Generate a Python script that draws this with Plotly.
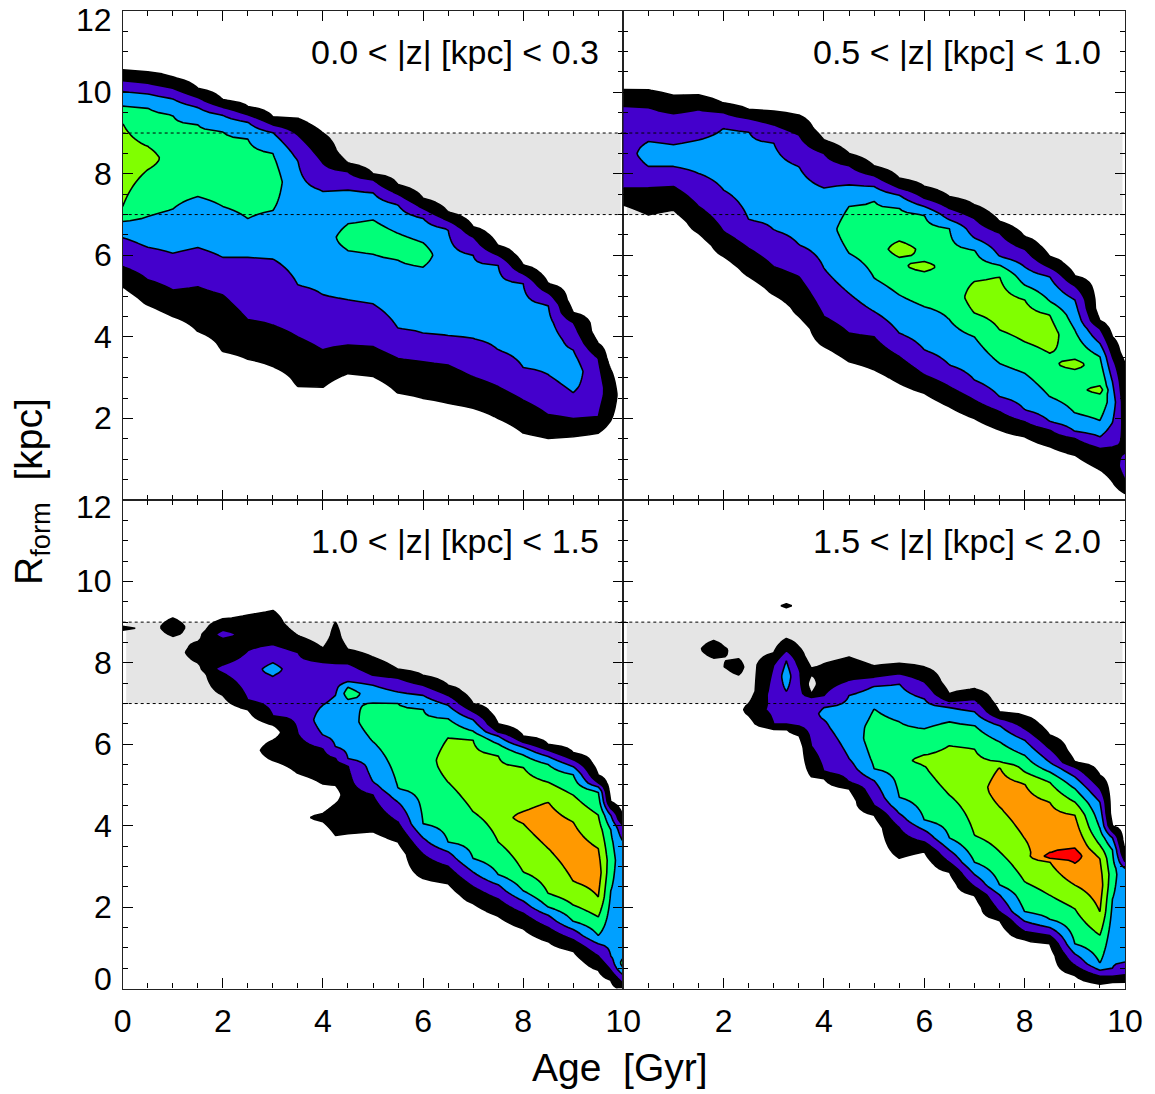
import numpy as np
import plotly.graph_objects as go

# ---------------------------------------------------------------------------
# Axis ticks, panel titles and the solar-radius band
# ---------------------------------------------------------------------------
AGE_TICKS = [0, 2, 4, 6, 8, 10]
R_TICKS = [0, 2, 4, 6, 8, 10, 12]
SOLAR_BAND = (7.0, 9.0)
PANEL_LABELS = [
    "0.0 < |z| [kpc] < 0.3",
    "0.5 < |z| [kpc] < 1.0",
    "1.0 < |z| [kpc] < 1.5",
    "1.5 < |z| [kpc] < 2.0",
]

# fill colour of each density level (level 0 = empty)
LEVEL_COLORS = [
    "rgba(255,255,255,0)",
    "#000000",
    "#4400cc",
    "#00a0ff",
    "#00ff78",
    "#80ff00",
    "#ff9900",
    "#ff0000",
]

# ---------------------------------------------------------------------------
# Density levels per age column.  Each entry lists the R_form values (kpc,
# bottom to top) where the level steps up (+) or down (-) by one.
# ---------------------------------------------------------------------------
AGE_COLS_Z1 = [0, 0.5, 1, 1.5, 2, 2.5, 3, 3.5, 4, 4.5, 5, 5.5, 6, 6.5, 7, 7.5, 8,
               8.5, 9, 9.5, 9.75, 10]
LEVEL_EDGES_Z1 = [
    "5.23+ 5.72+ 6.44+ 6.83+ 7.2+ 9.24- 9.66- 10.02- 10.28- 10.55-",
    "4.78+ 5.4+ 6.2+ 6.95+ 8.1+ 8.67- 9.61- 9.96- 10.22- 10.5-",
    "4.5+ 5.15+ 6.05+ 7.13+ 9.44- 9.84- 10.1- 10.37-",
    "4.13+ 5.23+ 6.19+ 7.44+ 9.2- 9.63- 9.87- 10.1-",
    "3.64+ 5.03+ 5.95+ 7.2+ 9.04- 9.44- 9.63- 9.81-",
    "3.45+ 4.42+ 5.95+ 6.9+ 8.85- 9.27- 9.45- 9.65-",
    "3.27+ 4.29+ 5.91+ 7.1+ 8.5- 9.01- 9.2- 9.4-",
    "2.78+ 4.0+ 5.27+ 8.32- 8.95- 9.36-",
    "2.76+ 3.68+ 5.03+ 7.58- 8.26- 9.0-",
    "3.1+ 3.8+ 4.91+ 6.12+ 6.77- 7.6- 8.05- 8.26-",
    "3.03+ 3.76+ 4.81+ 6.03+ 6.87- 7.54- 7.85- 8.0-",
    "2.62+ 3.47+ 4.21+ 5.89+ 6.54- 7.24- 7.5- 7.73-",
    "2.49+ 3.39+ 4.09+ 5.72+ 6.31- 6.91- 7.15- 7.4-",
    "2.37+ 3.31+ 4.02+ 6.64- 6.85- 7.06-",
    "2.25+ 3.02+ 3.96+ 6.0- 6.45- 6.7-",
    "2.0+ 2.78+ 3.68+ 5.76- 6.0- 6.24-",
    "1.64+ 2.45+ 3.25+ 5.31- 5.55- 5.76-",
    "1.51+ 2.09+ 3.07+ 4.78- 5.08- 5.31-",
    "1.55+ 2.0+ 2.63+ 3.68- 4.35- 4.6-",
    "1.64+ 2.04+ 3.48- 3.84-",
    "1.95+ 3.2-",
    "",
]

AGE_COLS_Z2 = [0, 0.5, 1, 1.5, 2, 2.5, 3, 3.5, 4, 4.5, 5, 5.5, 6, 6.5, 7, 7.5, 8,
               8.5, 9, 9.5, 9.75, 10]
LEVEL_EDGES_Z2 = [
    "7.24+ 7.65+ 9.66- 10.06-",
    "6.99+ 7.66+ 8.18+ 8.79- 9.63- 10.06-",
    "7.11+ 7.69+ 8.18+ 8.71- 9.48- 9.92-",
    "6.54+ 7.2+ 8.01+ 8.83- 9.58- 9.93-",
    "5.97+ 6.58+ 7.6+ 9.12- 9.5- 9.73-",
    "5.48+ 6.17+ 6.87+ 9.04- 9.35- 9.57-",
    "5.03+ 5.72+ 6.62+ 8.75- 9.2- 9.53-",
    "4.5+ 5.48+ 6.26+ 8.18- 8.95- 9.44-",
    "3.76+ 4.5+ 5.68+ 7.65- 8.5- 8.83-",
    "3.39+ 4.09+ 5.07+ 6.05+ 7.2- 7.73- 8.2- 8.5-",
    "3.19+ 4.0+ 4.62+ 5.44+ 7.34- 7.69- 7.95- 8.19-",
    "2.86+ 3.52+ 4.09+ 5.03+ 5.95+ 6.35- 7.15- 7.48- 7.65- 7.89-",
    "2.62+ 3.07+ 3.68+ 4.74+ 5.6+ 5.85- 6.99- 7.2- 7.4- 7.69-",
    "2.29+ 2.78+ 3.31+ 4.42+ 6.66- 6.87- 7.15- 7.44-",
    "2.0+ 2.45+ 2.94+ 4.0+ 4.58+ 5.36- 6.13- 6.42- 6.9- 7.24-",
    "1.72+ 2.17+ 2.53+ 3.35+ 4.17+ 5.48- 5.76- 5.97- 6.55- 6.83-",
    "1.55+ 1.92+ 2.21+ 3.11+ 3.88+ 4.91- 5.27- 5.72- 6.15- 6.46-",
    "1.31+ 1.72+ 1.92+ 2.53+ 3.6+ 4.54- 4.87- 5.48- 5.7- 5.97-",
    "1.1+ 1.51+ 1.68+ 2.13+ 3.2+ 3.45- 4.17- 4.91- 5.25- 5.5-",
    "0.74+ 1.27+ 1.55+ 1.95+ 2.6+ 2.8- 3.52- 3.84- 4.2- 4.4-",
    "0.45+ 1.3+ 1.9+ 2.9- 3.5- 4.0-",
    "0.16+ 0.5+ 1.15- 3.35-",
]

AGE_COLS_Z3 = [0, 0.5, 1, 1.5, 2, 2.5, 3, 3.5, 4, 4.25, 4.5, 5, 5.5, 6, 6.5, 7,
               7.5, 8, 8.5, 9, 9.5, 9.75, 10]
LEVEL_EDGES_Z3 = [
    "8.8+ 8.9-",
    "",
    "8.65+ 9.1-",
    "8.0+ 8.52-",
    "7.2+ 7.75+ 7.95- 8.6+ 8.8- 9.07-",
    "6.85+ 7.08+ 8.3- 9.18-",
    "5.6+ 6.1- 6.48+ 6.7+ 7.68+ 8.0- 8.45- 9.29-",
    "5.28+ 6.26+ 8.26- 8.67-",
    "4.1+ 4.3- 5.02+ 5.89+ 6.22+ 6.96- 8.02- 8.36-",
    "3.76+ 4.54- 4.99+ 5.65+ 5.93+ 7.2- 7.98- 9.0-",
    "3.8+ 5.48+ 5.65+ 7.1+ 7.4- 7.53- 7.98- 8.33-",
    "3.85+ 4.75+ 5.07+ 6.06+ 7.02- 7.45- 7.69- 8.14-",
    "3.6+ 4.09+ 4.58+ 4.91+ 7.0- 7.28- 7.63- 7.84-",
    "2.7+ 3.3+ 3.7+ 4.05+ 6.87- 7.2- 7.45- 7.69-",
    "2.58+ 3.0+ 3.36+ 3.6+ 5.07+ 6.16- 6.63- 6.96- 7.2- 7.45-",
    "2.09+ 2.5+ 2.86+ 3.19+ 4.34+ 6.1- 6.32- 6.6- 6.8- 7.0-",
    "1.78+ 2.2+ 2.55+ 2.8+ 3.6+ 5.73- 6.01- 6.2- 6.3- 6.5-",
    "1.47+ 1.85+ 2.15+ 2.4+ 2.86+ 4.05+ 4.35- 5.44- 5.74- 5.93- 6.05- 6.2-",
    "1.15+ 1.5+ 1.8+ 2.0+ 2.33+ 3.44+ 4.58- 5.07- 5.5- 5.7- 5.85- 5.99-",
    "0.92+ 1.2+ 1.45+ 1.65+ 2.05+ 2.63+ 4.09- 4.75- 5.25- 5.45- 5.62- 5.79-",
    "0.45+ 0.8+ 1.1+ 1.3+ 1.76+ 2.25+ 3.44- 4.26- 4.83- 4.95- 5.05- 5.24-",
    "0.2+ 0.45+ 0.8+ 2.4+ 3.9- 4.26- 4.42- 4.58-",
    "-0.05+ 0.12+ 0.33+ 0.5+ 0.75- 3.6- 4.0- 4.17-",
]

AGE_COLS_Z4 = [0, 1.3, 1.8, 2.3, 2.5, 3, 3.25, 3.5, 3.75, 4, 4.5, 5, 5.5, 6, 6.5,
               7, 7.5, 8, 8.5, 9, 9.5, 9.75, 10]
LEVEL_EDGES_Z4 = [
    "",
    "",
    "8.12+ 8.55-",
    "7.7+ 8.1-",
    "6.7+ 7.0-",
    "6.38+ 6.5+ 7.95- 8.25-",
    "6.38+ 6.48+ 7.3+ 8.05- 8.3- 8.6- 9.37+ 9.45-",
    "6.22+ 6.45+ 7.86- 8.39-",
    "5.2+ 5.95+ 7.15- 7.25- 7.7+ 7.86-",
    "5.16+ 5.32+ 6.6+ 6.9- 7.2- 7.98-",
    "4.91+ 5.07+ 5.65+ 7.2- 7.57- 8.14-",
    "4.26+ 4.5+ 5.11+ 5.4+ 6.87- 7.43- 7.65- 7.92-",
    "3.2+ 3.95+ 4.3+ 4.7+ 6.55- 7.49- 7.73- 7.98-",
    "3.36+ 3.6+ 3.89+ 4.13+ 5.48+ 5.73- 6.38- 7.12- 7.53- 7.9-",
    "2.86+ 3.1+ 3.4+ 3.7+ 4.75+ 5.97- 6.55- 6.9- 7.05- 7.24-",
    "2.29+ 2.5+ 2.8+ 3.1+ 3.76+ 5.89- 6.46- 6.8- 7.1- 7.36-",
    "1.68+ 1.88+ 2.3+ 2.54+ 3.36+ 4.46+ 5.44- 5.56- 6.06- 6.46- 6.63- 6.79-",
    "1.2+ 1.4+ 1.65+ 1.88+ 2.62+ 3.68+ 5.03- 5.32- 5.73- 6.1- 6.38- 6.7-",
    "1.1+ 1.3+ 1.5+ 1.7+ 2.29+ 3.11+ 3.2+ 3.32- 4.58- 5.07- 5.32- 5.56- 5.89- 6.22-",
    "0.33+ 0.57+ 0.85+ 1.1+ 1.96+ 2.54+ 3.08+ 3.45- 4.26- 4.58- 4.91- 5.2- 5.44- 5.56-",
    "0.12+ 0.3+ 0.45+ 0.62+ 1.31+ 1.88+ 3.19- 3.52- 3.93- 4.58- 4.91- 5.24-",
    "0.15+ 0.3+ 0.5+ 2.2+ 3.4- 3.7- 3.85- 4.0-",
    "0.16+ 0.33+ 0.65+ 2.95- 3.11- 3.36-",
]

# ---------------------------------------------------------------------------
# Build the level grid: each column becomes a piecewise-linear profile whose
# level boundaries sit exactly on the half-integer contour values.
# ---------------------------------------------------------------------------
R_GRID = np.round(np.arange(0.0, 12.0001, 0.05), 3)


def level_profile(edges, r):
    toks = edges.split()
    if not toks:
        return np.zeros_like(r)
    ys, zs = [], []
    level, prev = 0, None
    for tok in toks:
        yv = float(tok[:-1])
        step = 1 if tok[-1] == "+" else -1
        if prev is not None:
            ys.append(0.5 * (prev + yv))
            zs.append(level)
        new = level + step
        ys.append(yv)
        zs.append(max(level, new) - 0.5)
        level, prev = new, yv
    ys = [ys[0] - 0.3] + ys + [ys[-1] + 0.3]
    zs = [0.0] + zs + [0.0]
    return np.interp(r, ys, zs)


def level_grid(edges_list):
    return np.column_stack([level_profile(e, R_GRID) for e in edges_list])


def stepped_scale(colors):
    n = len(colors) - 1
    scale = []
    for k, c in enumerate(colors):
        lo = max(0.0, (k - 0.5) / n)
        hi = min(1.0, (k + 0.5) / n)
        scale.append([lo, c])
        scale.append([hi, c])
    return scale


# ---------------------------------------------------------------------------
# Page geometry in pixels
# ---------------------------------------------------------------------------
FONT = "Liberation Sans, Arial, Helvetica, sans-serif"
W, H = 1155, 1094


def px_x(px):
    return px / W


def px_y(py):
    return (H - py) / H


XL = (px_x(122.7), px_x(623.3))
XR = (px_x(623.3), px_x(1125.0))
YT = (px_y(500.0), px_y(10.7))
YB = (px_y(988.5), px_y(500.0))

panels = [
    # (columns, edges, x axis, y axis, x domain, y domain)
    (AGE_COLS_Z1, LEVEL_EDGES_Z1, "x", "y", XL, YT),
    (AGE_COLS_Z2, LEVEL_EDGES_Z2, "x2", "y2", XR, YT),
    (AGE_COLS_Z3, LEVEL_EDGES_Z3, "x3", "y3", XL, YB),
    (AGE_COLS_Z4, LEVEL_EDGES_Z4, "x4", "y4", XR, YB),
]

fig = go.Figure()
scale = stepped_scale(LEVEL_COLORS)

for cols, edges, xa, ya, _, _ in panels:
    fig.add_trace(go.Contour(
        x=cols, y=R_GRID, z=level_grid(edges),
        xaxis=xa, yaxis=ya,
        colorscale=scale, zmin=0, zmax=len(LEVEL_COLORS) - 1,
        autocontour=False,
        contours=dict(start=0.5, end=len(LEVEL_COLORS) - 1.5, size=1,
                      coloring="fill", showlines=True),
        line=dict(color="black", width=1.6, smoothing=0),
        showscale=False, hoverinfo="skip",
    ))

layout = dict(
    width=W, height=H,
    margin=dict(l=0, r=0, t=0, b=0, pad=0, autoexpand=False),
    paper_bgcolor="white", plot_bgcolor="white",
    showlegend=False,
    font=dict(family=FONT, color="black"),
)


def axis_common():
    return dict(
        automargin=False,
        showgrid=False, zeroline=False, showline=True,
        linecolor="#222222", linewidth=1.2, mirror="ticks",
        ticks="inside", ticklen=10, tickwidth=1.2, tickcolor="black",
        tickfont=dict(family=FONT, size=32, color="black"),
    )


names = {"x": "xaxis", "x2": "xaxis2", "x3": "xaxis3", "x4": "xaxis4",
         "y": "yaxis", "y2": "yaxis2", "y3": "yaxis3", "y4": "yaxis4"}

for i, (cols, edges, xa, ya, xdom, ydom) in enumerate(panels):
    ax = axis_common()
    bottom_row = ya in ("y3", "y4")
    right_col = xa in ("x2", "x4")
    age_vals = AGE_TICKS[1:] if right_col else AGE_TICKS
    ax.update(
        domain=list(xdom), range=[0, 10], anchor=ya,
        tickmode="array", tickvals=age_vals,
        ticktext=[str(v) for v in age_vals],
        showticklabels=bottom_row, ticklabelstandoff=4,
        minor=dict(tick0=0, dtick=0.5, ticks="inside", ticklen=5,
                   tickwidth=1, tickcolor="black", showgrid=False),
    )
    ay = axis_common()
    ay.update(
        domain=list(ydom), range=[0, 12], anchor=xa,
        tickmode="array", tickvals=R_TICKS, showticklabels=False,
        minor=dict(tick0=0, dtick=0.5, ticks="inside", ticklen=5,
                   tickwidth=1, tickcolor="black", showgrid=False),
    )
    layout[names[xa]] = ax
    layout[names[ya]] = ay

fig.update_layout(**layout)

shapes = []
annotations = []
for i, (cols, edges, xa, ya, xdom, ydom) in enumerate(panels):
    shapes.append(dict(type="rect", xref=xa, yref=ya, x0=0.07, x1=9.95,
                       y0=SOLAR_BAND[0], y1=SOLAR_BAND[1],
                       fillcolor="#e5e5e5", line=dict(width=0), layer="below"))
    for yb in SOLAR_BAND:
        shapes.append(dict(type="line", xref=xa, yref=ya, x0=0, x1=10,
                           y0=yb, y1=yb, layer="above",
                           line=dict(color="black", width=1, dash="dot")))
    annotations.append(dict(
        text=PANEL_LABELS[i], xref=xa, yref=ya, x=10, y=12,
        xanchor="right", yanchor="middle", xshift=-22, yshift=-41,
        showarrow=False, font=dict(family=FONT, size=34, color="black")))

# R_form tick labels on the left column
for ya, vals in (("y", R_TICKS[1:]), ("y3", R_TICKS)):
    for v in vals:
        shift = 0
        if v == 12:
            shift = -9 if ya == "y" else -7
        elif v == 0:
            shift = 10
        annotations.append(dict(
            text=str(v), xref="paper", yref=ya, x=XL[0], y=v,
            xanchor="right", yanchor="middle", xshift=-9, yshift=shift,
            showarrow=False, font=dict(family=FONT, size=32, color="black")))

annotations.append(dict(
    text="Age\u00a0\u00a0[Gyr]", xref="paper", yref="paper",
    x=px_x(620), y=px_y(1067), xanchor="center", yanchor="middle",
    showarrow=False, font=dict(family=FONT, size=39, color="black")))
annotations.append(dict(
    text="R<sub>form</sub>\u00a0\u00a0[kpc]", xref="paper", yref="paper",
    x=px_x(32), y=px_y(492), xanchor="center", yanchor="middle",
    textangle=-90, showarrow=False,
    font=dict(family=FONT, size=39, color="black")))

fig.update_layout(shapes=shapes, annotations=annotations)

fig.write_html("out.html", config={"responsive": False})
